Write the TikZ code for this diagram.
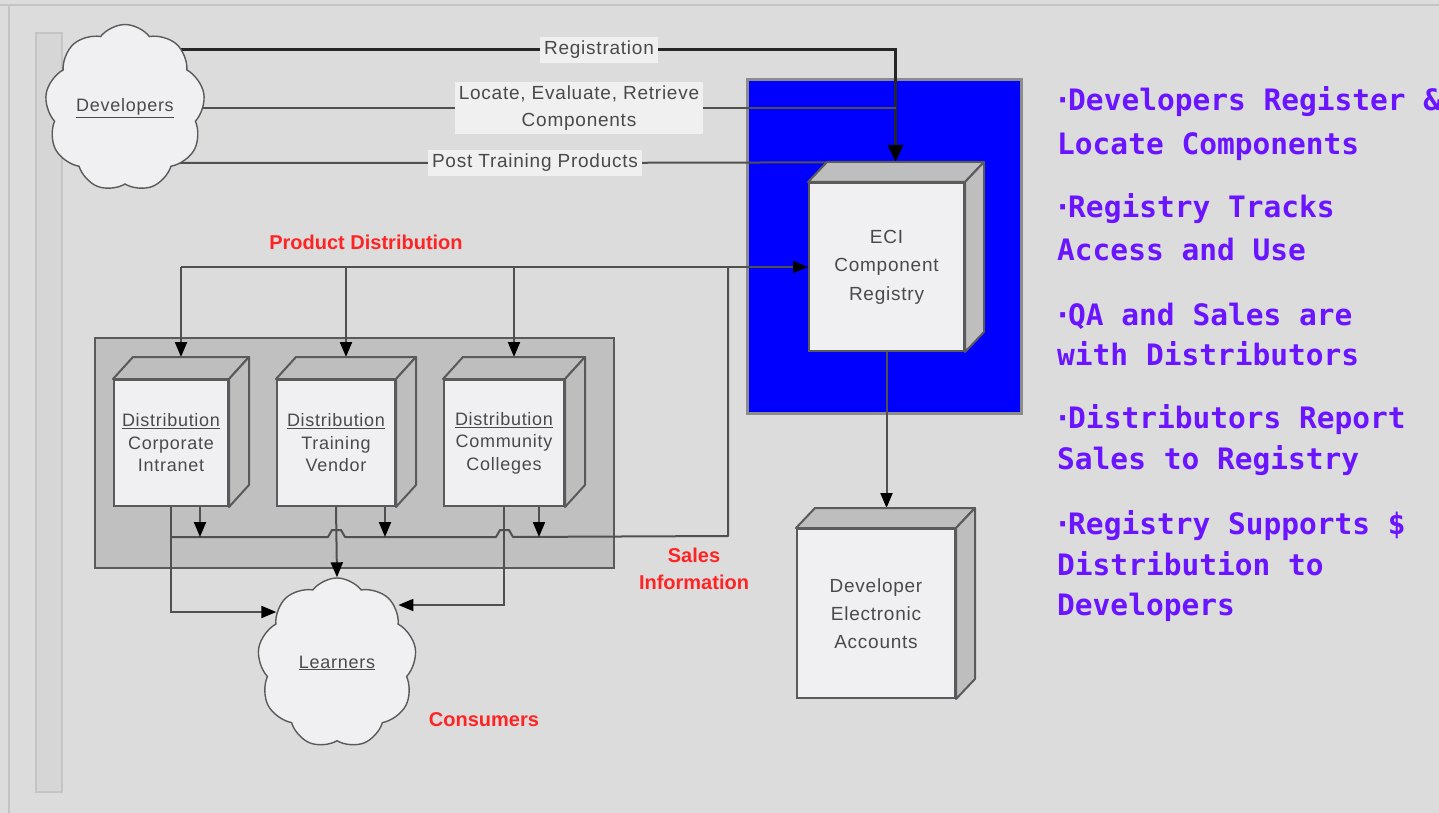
\documentclass[tikz,border=0pt]{standalone}
\usepackage{fontspec}
\setmainfont{Liberation Sans}
\newfontfamily\lblfont[LetterSpace=4]{Liberation Sans}
\newfontfamily\notefont{DejaVu Sans Mono}
\usetikzlibrary{shapes.symbols,arrows.meta,calc}
\pgfdeclarelayer{bg}
\pgfdeclarelayer{lines}
\pgfsetlayers{bg,lines,main}

\definecolor{paper}{HTML}{DCDCDC}
\definecolor{framegray}{HTML}{C4C4C4}
\definecolor{stripgray}{HTML}{D6D6D6}
\definecolor{zoneblue}{HTML}{0000FF}
\definecolor{zoneedge}{HTML}{8C8C8C}
\definecolor{groupgray}{HTML}{C0C0C0}
\definecolor{edgegray}{HTML}{5A5A5A}
\definecolor{facelight}{HTML}{F0F0F2}
\definecolor{faceside}{HTML}{BEBEBE}
\definecolor{linegray}{HTML}{505050}
\definecolor{textgray}{HTML}{4A4A4A}
\definecolor{labelbg}{HTML}{F0F0F0}
\definecolor{alertred}{HTML}{FF2424}
\definecolor{notepurple}{HTML}{6A14FF}

% side faces of a box node, drawn behind the front face
\newcommand\boxfaces[3]{%
  \path[sideface] (#1.north west) -- ++(#2,-#3) -- ($(#1.north east)+(#2,-#3)$) -- (#1.north east) -- cycle;
  \path[sideface] (#1.north east) -- ++(#2,-#3) -- ($(#1.south east)+(#2,-#3)$) -- (#1.south east) -- cycle;}
\newcommand\bul{\makebox[11pt][c]{·}}

\begin{document}
\begin{tikzpicture}[x=1pt,y=-1pt,
  frontface/.style={draw=edgegray, line width=2pt, fill=facelight, inner sep=0pt,
    text=textgray, align=center, font=\lblfont\fontsize{18}{22.5}\selectfont},
  sideface/.style={draw=edgegray, line width=2pt, fill=faceside, line join=round},
  cloudnode/.style={cloud, cloud puffs=9, cloud puff arc=105, draw=edgegray, line width=1.4pt,
    fill=facelight, inner sep=0pt, text=textgray, font=\lblfont\fontsize{18}{22}\selectfont},
  conn/.style={draw=linegray, line width=2pt},
  tip/.style={-{Triangle[length=15pt,width=12pt,color=black]}},
  lab/.style={fill=labelbg, inner sep=4pt, align=center, text=textgray,
    font=\lblfont\fontsize{19}{27}\selectfont},
  redlab/.style={text=alertred, align=center, font=\bfseries\fontsize{20}{27}\selectfont},
  note/.style={anchor=base west, inner sep=0pt, text=notepurple,
    font=\notefont\bfseries\fontsize{29.5}{36}\selectfont}]

\useasboundingbox (0,0) rectangle (1439,813);

\begin{pgfonlayer}{bg}
  \fill[paper] (0,0) rectangle (1439,813);
  \draw[framegray, line width=2pt] (0,5) -- (1439,5);
  \draw[framegray, line width=2pt] (9,5) -- (9,813);
  \draw[framegray, fill=stripgray, line width=1.2pt] (36,33) rectangle (62,792);
  \node[draw=zoneedge, line width=3pt, fill=zoneblue, minimum width=274, minimum height=333] (zone) at (884,246.5) {};
  \node[draw=edgegray, line width=2.5pt, fill=groupgray, minimum width=519, minimum height=230] (grp) at (354.5,453) {};
\end{pgfonlayer}

% clouds
\node[cloudnode, minimum width=160, minimum height=167] (dev) at (125,108) {\underline{Developers}};
\node[cloudnode, minimum width=159, minimum height=170] (lea) at (337,663) {\underline{Learners}};

% registry and accounts
\node[frontface, minimum width=155, minimum height=168, font=\lblfont\fontsize{19}{28.5}\selectfont] (eci) at (886.5,267) {ECI\\Component\\Registry};
\boxfaces{eci}{19}{20}
\node[frontface, minimum width=158, minimum height=169, font=\lblfont\fontsize{19}{28}\selectfont] (dea) at (876,613.5) {Developer\\Electronic\\Accounts};
\boxfaces{dea}{19}{20}

% distributors
\node[frontface, minimum width=114, minimum height=126] (d1) at (171,443) {\underline{Distribution}\\Corporate\\Intranet};
\boxfaces{d1}{20}{22}
\node[frontface, minimum width=118, minimum height=126] (d2) at (336,443) {\underline{Distribution}\\Training\\Vendor};
\boxfaces{d2}{20}{22}
\node[frontface, minimum width=120, minimum height=126] (d3) at (504,443) {\underline{Distribution}\\Community\\Colleges};
\boxfaces{d3}{20}{22}

% labels on the developer connectors
\node[lab] (reglab) at (599,50) {Registration};
\node[lab] (loclab) at (579,108) {Locate, Evaluate, Retrieve\\Components};
\node[lab] (postlab) at (535,163) {Post Training Products};

% red captions
\node[redlab] (pdlab) at (366,242) {Product Distribution};
\node[redlab] (salab) at (694,568.5) {Sales\\Information};
\node[redlab] (cslab) at (484,720) {Consumers};

% key points
\foreach \ty/\tx [count=\i] in {111/{\bul Developers Register \&},155/{Locate Components},
  217/{\bul Registry Tracks},260/{Access and Use},
  325/{\bul QA and Sales are},365/{with Distributors},
  428/{\bul Distributors Report},469/{Sales to Registry},
  534/{\bul Registry Supports \$},575/{Distribution to},615/{Developers}}
  \node[note] (note\i) at (1057,\ty) {\tx};

% anchor points on the box tops
\coordinate (ecitop) at ($(eci.north)+(9,-20)$);
\coordinate (ecitopR) at ($(eci.north east)+(19,-20)$);
\coordinate (deatop) at ($(dea.north)+(9,-20)$);
\coordinate (d1tip) at ($(d1.north)+(10,-22)$);
\coordinate (d2tip) at ($(d2.north)+(10,-22)$);
\coordinate (d3tip) at ($(d3.north)+(10,-22)$);
\coordinate (busL) at ($(d1.south)+(0,30)$);
\coordinate (salesC) at (728,536);
\coordinate (h2) at (d2.south |- busL);
\coordinate (h3) at (d3.south |- busL);
\coordinate (lowL) at ($(d1.south)+(0,105)$);
\coordinate (lowR) at ($(d3.south)+(0,98)$);

\begin{pgfonlayer}{lines}
  % developers to registry
  \draw[conn, draw=black!85, line width=3pt] (dev.center |- reglab) -- (reglab);
  \draw[conn, draw=black!85, line width=3pt, -{Triangle[length=17pt,width=15pt,color=black]}] (reglab) -| (ecitop);
  \draw[conn] (dev.center |- loclab) -- (loclab) -- (ecitop |- loclab);
  \draw[conn] (dev.center |- postlab) -- (postlab) -- (ecitopR);
  % product distribution
  \draw[conn, tip] (d1tip |- eci.west) -- (eci.west);
  \draw[conn, tip] (d1tip |- eci.west) -- (d1tip);
  \draw[conn, tip] (d2tip |- eci.west) -- (d2tip);
  \draw[conn, tip] (d3tip |- eci.west) -- (d3tip);
  % sales information bus, hopping over the learner lines
  \draw[conn, line join=round] (busL) -- ($(h2)+(-8,0)$) -- ($(h2)+(-4,-7)$) -- ($(h2)+(5,-7)$) -- ($(h2)+(9,0)$)
     -- ($(h3)+(-8,0)$) -- ($(h3)+(-4,-7)$) -- ($(h3)+(5,-7)$) -- ($(h3)+(9,0)$)
     -- (salesC) -- (salesC |- eci.west);
  \draw[conn, tip] ($(d1.south)+(29,0)$) -- ($(d1.south)+(29,30)$);
  \draw[conn, tip] ($(d2.south)+(49,0)$) -- ($(d2.south)+(49,30)$);
  \draw[conn, tip] ($(d3.south)+(35,0)$) -- ($(d3.south)+(35,30)$);
  % distributors to learners
  \draw[conn, tip] (d1.south) -- (lowL) -- (lea.140 |- lowL);
  \draw[conn, tip] (d2.south) -- (lea.north);
  \draw[conn, tip] (d3.south) -- (lowR) -- (lea.38 |- lowR);
  % registry to accounts
  \draw[conn, tip] (eci.south) -- (eci.south |- deatop);
\end{pgfonlayer}
\end{tikzpicture}
\end{document}
